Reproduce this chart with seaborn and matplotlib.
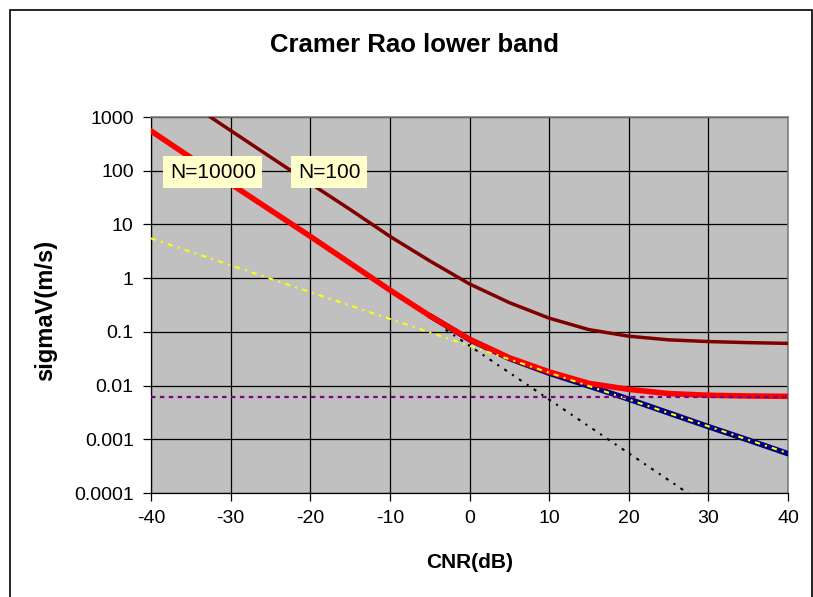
import matplotlib
matplotlib.use("Agg")
import matplotlib.pyplot as plt
import seaborn as sns
import numpy as np
from matplotlib.patches import Rectangle

# ---------------- data ----------------
cnr_db = [-40, -35, -30, -25, -20, -15, -10, -5, 0, 5, 10, 15, 20, 25, 30, 35, 40]

sigma_n10000 = [550, 175, 57, 18.5, 6.0, 1.9, 0.6, 0.2, 0.073, 0.033, 0.018,
                0.011, 0.0085, 0.0071, 0.0066, 0.0064, 0.0063]
sigma_n100 = [5500, 1750, 560, 180, 58, 19, 6.0, 2.1, 0.78, 0.35, 0.18,
              0.11, 0.083, 0.071, 0.066, 0.063, 0.061]

blue_db = [-5, 0, 5, 10, 15, 20, 25, 30, 35, 40]
blue_sigma = [0.2, 0.072, 0.032, 0.017, 0.0098, 0.0056, 0.0031, 0.00172, 0.00097, 0.00054]

yellow_db = [-40, -30, -20, -10, 0, 10, 20, 30, 40]
yellow_sigma = [5.5, 1.74, 0.55, 0.174, 0.055, 0.0174, 0.0055, 0.00174, 0.00055]

black_db = [-3, 0, 10, 20, 30, 40]
black_sigma = [0.11, 0.055, 0.0055, 0.00055, 0.000055, 0.0000055]

floor_db = [-40, 40]
floor_sigma = [0.0062, 0.0062]

y_ticks = [1e3, 1e2, 1e1, 1, 0.1, 0.01, 0.001, 0.0001]
y_tick_labels = ["1000", "100", "10", "1", "0.1", "0.01", "0.001", "0.0001"]
x_ticks = [-40, -30, -20, -10, 0, 10, 20, 30, 40]

title = "Cramer Rao lower band"
xlabel = "CNR(dB)"
ylabel = "sigmaV(m/s)"
label_a = "N=10000"
label_b = "N=100"

# ---------------- figure ----------------
sns.set_style("ticks")
plt.rcParams["font.family"] = ["Liberation Sans", "DejaVu Sans"]
plt.rcParams["text.color"] = "black"

W, H = 813, 597
fig = plt.figure(figsize=(W / 100, H / 100), dpi=100)
fig.patch.set_facecolor("white")

L, R, T, B = 151, 788, 117, 493
ax = fig.add_axes([L / W, (H - B) / H, (R - L) / W, (B - T) / H])
ax.set_facecolor("#C0C0C0")

# lines
sns.lineplot(x=blue_db, y=blue_sigma, ax=ax, color="#000080", linewidth=4.0, zorder=3)
sns.lineplot(x=cnr_db, y=sigma_n10000, ax=ax, color="#FF0000", linewidth=4.0, zorder=4)
sns.lineplot(x=cnr_db, y=sigma_n100, ax=ax, color="#800000", linewidth=2.5, zorder=4)
sns.lineplot(x=yellow_db, y=yellow_sigma, ax=ax, color="#FFFF00", linewidth=1.5,
             linestyle=(0, (2.5, 2.5, 1, 2.5)), zorder=5)
sns.lineplot(x=black_db, y=black_sigma, ax=ax, color="black", linewidth=1.5,
             linestyle=(0, (1.5, 3, 1, 3)), zorder=5)
sns.lineplot(x=floor_db, y=floor_sigma, ax=ax, color="#800080", linewidth=1.6,
             linestyle=(0, (2, 2)), zorder=6)

ax.set_yscale("log")
ax.set_ylim(1e-4, 1e3)
ax.set_xlim(-40, 40)
ax.set_yticks(y_ticks)
ax.set_yticklabels(y_tick_labels)
ax.set_xticks(x_ticks)
ax.set_xticklabels([str(v) for v in x_ticks])
ax.minorticks_off()
ax.yaxis.set_minor_locator(matplotlib.ticker.NullLocator())

ax.grid(True, which="major", color="black", linewidth=0.9)
ax.set_axisbelow(True)
ax.tick_params(axis="both", direction="out", length=5.5, width=0.9, colors="black",
               labelsize=14, pad=7)
ax.set_xlabel("")
ax.set_ylabel("")

for side in ["left", "bottom"]:
    ax.spines[side].set_color("black")
    ax.spines[side].set_linewidth(0.9)
for side in ["top", "right"]:
    ax.spines[side].set_visible(True)
    ax.spines[side].set_color("#808080")
    ax.spines[side].set_linewidth(1.2)

# annotation boxes
box = dict(boxstyle="square,pad=0.32", fc="#FFFFCC", ec="none")
ax.text(0.097, 0.853, label_a, transform=ax.transAxes, ha="center", va="center",
        fontsize=15, color="black", bbox=box, zorder=7)
ax.text(0.28, 0.853, label_b, transform=ax.transAxes, ha="center", va="center",
        fontsize=15, color="black", bbox=box, zorder=7)

# titles / labels
fig.text(414 / W, 1 - 45 / H, title, ha="center", va="center", fontsize=18.5,
         fontweight="bold", color="black")
fig.text(469.5 / W, 1 - 563 / H, xlabel, ha="center", va="center", fontsize=15,
         fontweight="bold", color="black")
fig.text(46 / W, 1 - 310 / H, ylabel, ha="center", va="center", fontsize=17,
         fontweight="bold", rotation=90, color="black")

# chart-area border (Excel style)
fig.patches.append(Rectangle((10 / W, -0.1), (811.5 - 10) / W, 1.1 - 10 / H,
                             transform=fig.transFigure, fill=False,
                             edgecolor="black", linewidth=1.2))

fig.savefig("out.png", dpi=100)
